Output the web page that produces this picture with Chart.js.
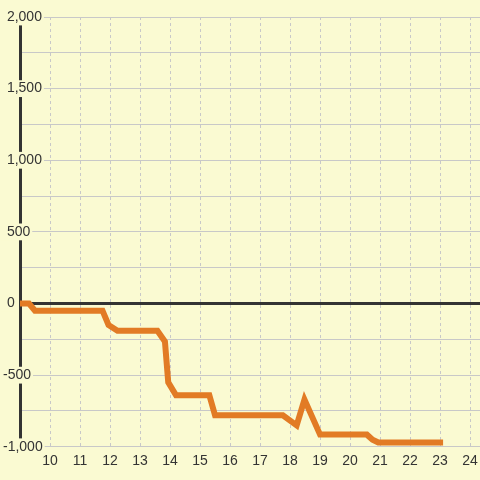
<!DOCTYPE html>
<html>
<head>
    <title>Step Line</title>
    <script src="https://cdnjs.cloudflare.com/ajax/libs/Chart.js/4.4.0/chart.umd.min.js"></script>
    <style>
        body {
            margin: 0;
            background: #fafad2;
        }
        .chart-container {
            width: 480px;
            height: 480px;
            position: relative;
        }
    </style>
</head>
<body>
    <div class="chart-container">
        <canvas id="myChart" width="480" height="480"></canvas>
    </div>

    <script>
        const hours = [9, 9.3, 9.5, 11.75, 11.95, 12.25, 13.58, 13.83, 13.94, 14.2, 15.31, 15.5, 17.76, 18.22, 18.48, 19.0, 20.56, 20.75, 20.94, 23.1];
        const values = [0, 0, -50, -50, -150, -190, -190, -265, -550, -640, -640, -780, -780, -850, -670, -915, -915, -950, -970, -970];
        const xMin = 9, xMax = 24.33;
        const yMin = -1000, yMax = 2000;

        const bg = '#fafad2';
        const gridColor = '#c8c8c8';
        const textColor = '#333';

        const ctx = document.getElementById('myChart');

        new Chart(ctx, {
            type: 'line',
            data: {
                datasets: [{
                    data: hours.map((h, i) => ({ x: h, y: values[i] })),
                    borderColor: '#e27b25',
                    borderWidth: 6,
                    pointRadius: 0,
                    tension: 0
                }]
            },
            options: {
                responsive: false,
                animation: false,
                devicePixelRatio: 1,
                layout: {
                    padding: { left: 3, top: 17, right: 0, bottom: 4 }
                },
                plugins: {
                    legend: { display: false },
                    tooltip: { enabled: false }
                },
                scales: {
                    x: {
                        type: 'linear',
                        min: xMin,
                        max: xMax,
                        grid: {
                            drawTicks: false,
                            color: (c) => c.tick && c.tick.value === 9 ? 'rgba(0,0,0,0)' : gridColor
                        },
                        border: { display: false, dash: [3, 3] },
                        ticks: {
                            stepSize: 1,
                            includeBounds: false,
                            padding: 2,
                            color: textColor,
                            font: { family: 'Liberation Sans', size: 14, lineHeight: 1.8 },
                            callback: (v) => v === 9 ? '' : String(v)
                        }
                    },
                    y: {
                        min: yMin,
                        max: yMax,
                        afterFit: (scale) => { scale.width = 17; },
                        grid: {
                            drawTicks: false,
                            color: (c) => c.tick && c.tick.value === 0 ? '#333' : gridColor,
                            lineWidth: (c) => c.tick && c.tick.value === 0 ? 3 : 1
                        },
                        border: { color: '#333', width: 3 },
                        ticks: {
                            stepSize: 250,
                            autoSkip: false,
                            mirror: true,
                            padding: -17,
                            color: textColor,
                            font: { family: 'Liberation Sans', size: 14 },
                            showLabelBackdrop: (c) => c.tick && c.tick.value % 500 === 0,
                            backdropColor: bg,
                            backdropPadding: { x: 2, y: 0 },
                            callback: function(v) {
                                if (v % 500 !== 0) return '';
                                return (v < 0 ? '' : ' ') + v.toLocaleString('en-US');
                            }
                        }
                    }
                }
            }
        });
    </script>
</body>
</html>
